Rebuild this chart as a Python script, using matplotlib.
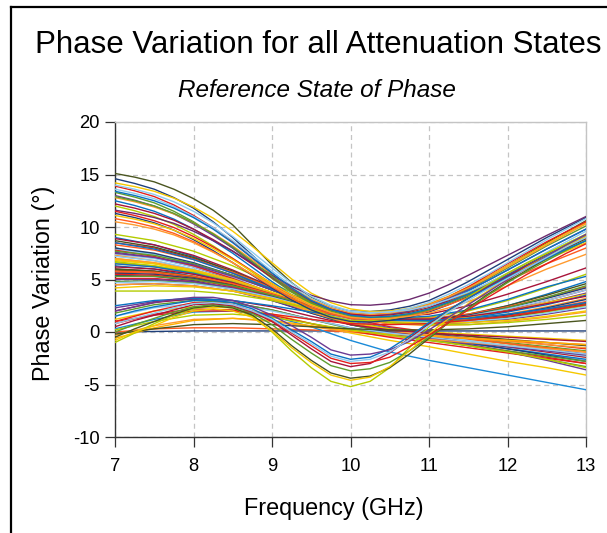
import matplotlib
matplotlib.use("Agg")
import matplotlib.pyplot as plt
from matplotlib.lines import Line2D

plt.rcParams['font.family'] = ['Liberation Sans', 'DejaVu Sans']

# ---------------- data ----------------
freq_ghz = [7.0, 7.5, 8.0, 8.5, 9.0, 9.5, 10.0, 10.5, 11.0, 11.5, 12.0, 12.5, 13.0]
freq_fine_ghz = [7.0, 7.25, 7.5, 7.75, 8.0, 8.25, 8.5, 8.75, 9.0, 9.25, 9.5, 9.75, 10.0,
                 10.25, 10.5, 10.75, 11.0, 11.25, 11.5, 11.75, 12.0, 12.25, 12.5, 12.75, 13.0]

# states starting high at 7 GHz and ending high at 13 GHz (fine grid)
high_start = [
    [15.1, 14.75, 14.3, 13.6, 12.7, 11.6, 10.2, 8.3, 6.4, 4.7, 3.3, 2.4, 1.9, 1.7, 1.8, 2.1, 2.6, 3.3, 4.2, 5.2, 6.3, 7.4, 8.5, 9.55, 10.6],
    [14.6, 14.15, 13.6, 12.8, 11.8, 10.5, 9.0, 7.3, 5.6, 4.15, 3.0, 2.35, 2.0, 1.95, 2.1, 2.45, 3.0, 3.85, 4.8, 5.85, 6.9, 7.95, 9.0, 9.95, 10.9],
    [14.2, 13.85, 13.4, 12.75, 11.9, 10.85, 9.6, 8.15, 6.6, 5.05, 3.7, 2.8, 2.2, 1.95, 2.0, 2.25, 2.7, 3.4, 4.3, 5.25, 6.3, 7.35, 8.4, 9.4, 10.4],
    [13.9, 13.45, 12.9, 12.1, 11.1, 9.95, 8.6, 7.05, 5.5, 4.1, 2.9, 2.1, 1.6, 1.5, 1.7, 2.05, 2.6, 3.35, 4.3, 5.4, 6.5, 7.55, 8.6, 9.55, 10.5],
    [13.6, 13.2, 12.7, 11.95, 11.0, 9.95, 8.7, 7.25, 5.8, 4.4, 3.2, 2.4, 1.9, 1.75, 1.9, 2.25, 2.8, 3.6, 4.5, 5.5, 6.6, 7.7, 8.8, 9.8, 10.8],
    [13.3, 12.85, 12.3, 11.5, 10.5, 9.3, 8.0, 6.55, 5.1, 3.8, 2.7, 1.95, 1.5, 1.4, 1.6, 1.95, 2.5, 3.25, 4.1, 5.05, 6.1, 7.15, 8.2, 9.15, 10.1],
    [13.0, 12.55, 12.0, 11.25, 10.3, 9.2, 8.0, 6.65, 5.3, 4.0, 2.9, 2.15, 1.7, 1.6, 1.7, 2.0, 2.5, 3.2, 4.0, 4.9, 5.9, 6.9, 7.9, 8.85, 9.8],
    [12.8, 12.4, 11.9, 11.25, 10.4, 9.4, 8.2, 6.85, 5.5, 4.2, 3.1, 2.3, 1.8, 1.65, 1.8, 2.1, 2.6, 3.35, 4.2, 5.15, 6.2, 7.25, 8.3, 9.3, 10.3],
    [12.5, 12.05, 11.5, 10.75, 9.8, 8.7, 7.5, 6.15, 4.8, 3.55, 2.5, 1.75, 1.3, 1.2, 1.4, 1.75, 2.3, 3.05, 3.9, 4.9, 5.9, 6.9, 7.9, 8.85, 9.8],
    [12.2, 11.8, 11.3, 10.65, 9.8, 8.8, 7.7, 6.45, 5.2, 3.95, 2.9, 2.15, 1.7, 1.55, 1.6, 1.85, 2.3, 2.95, 3.7, 4.55, 5.5, 6.45, 7.4, 8.3, 9.2],
    [12.0, 11.55, 11.0, 10.25, 9.3, 8.2, 7.0, 5.7, 4.4, 3.2, 2.2, 1.5, 1.1, 1.05, 1.2, 1.55, 2.1, 2.85, 3.7, 4.65, 5.6, 6.55, 7.5, 8.4, 9.3],
    [11.6, 11.3, 10.9, 10.35, 9.6, 8.7, 7.7, 6.55, 5.4, 4.35, 3.5, 2.95, 2.6, 2.55, 2.7, 3.1, 3.7, 4.5, 5.4, 6.35, 7.3, 8.25, 9.2, 10.1, 11.0],
    [11.5, 11.1, 10.6, 9.95, 9.1, 8.1, 7.0, 5.8, 4.6, 3.45, 2.5, 1.8, 1.4, 1.3, 1.4, 1.7, 2.2, 2.85, 3.6, 4.5, 5.4, 6.3, 7.2, 8.05, 8.9],
    [11.3, 10.9, 10.4, 9.7, 8.8, 7.75, 6.6, 5.4, 4.2, 3.05, 2.1, 1.4, 1.0, 0.95, 1.1, 1.4, 1.9, 2.6, 3.4, 4.35, 5.3, 6.25, 7.2, 8.1, 9.0],
    [11.1, 10.75, 10.3, 9.7, 8.9, 7.95, 6.9, 5.75, 4.6, 3.55, 2.6, 1.95, 1.5, 1.4, 1.5, 1.75, 2.2, 2.8, 3.5, 4.35, 5.2, 6.05, 6.9, 7.7, 8.5],
    [10.8, 10.45, 10.0, 9.4, 8.6, 7.65, 6.6, 5.45, 4.3, 3.2, 2.3, 1.7, 1.3, 1.2, 1.3, 1.55, 2.0, 2.6, 3.3, 4.1, 4.9, 5.7, 6.5, 7.25, 8.0],
    [12.9, 12.5, 12.0, 11.3, 10.4, 9.35, 8.1, 6.7, 5.3, 3.95, 2.8, 2.0, 1.5, 1.35, 1.4, 1.65, 2.1, 2.75, 3.5, 4.35, 5.2, 6.1, 7.0, 7.85, 8.7],
    [13.4, 13.0, 12.5, 11.8, 10.9, 9.8, 8.5, 7.05, 5.6, 4.2, 3.0, 2.15, 1.6, 1.4, 1.5, 1.75, 2.2, 2.85, 3.6, 4.45, 5.4, 6.35, 7.3, 8.2, 9.1],
    [10.5, 10.2, 9.8, 9.25, 8.5, 7.6, 6.6, 5.5, 4.4, 3.4, 2.5, 1.85, 1.4, 1.25, 1.3, 1.5, 1.8, 2.3, 2.9, 3.6, 4.4, 5.2, 6.0, 6.7, 7.4],
    [14.0, 13.6, 13.1, 12.4, 11.5, 10.4, 9.1, 7.6, 6.1, 4.65, 3.4, 2.55, 2.0, 1.85, 1.9, 2.1, 2.5, 3.1, 3.8, 4.65, 5.6, 6.6, 7.6, 8.6, 9.6],
]
high_colors = ['#4a5520', '#1f3f7a', '#f5c800', '#e4201c', '#8ecbf0', '#5e9c2e',
               '#6b3a93', '#ff9a2e', '#0a72c2', '#a8143a', '#b4cc00', '#6b2a6e',
               '#e4201c', '#1f3f7a', '#f5c800', '#ff5a1f', '#5e9c2e', '#0a72c2',
               '#ff9a2e', '#8ecbf0']

# states starting mid-range and ending mid-range
mid_to_mid = [
    [9.3, 8.7, 7.7, 6.3, 4.6, 3.0, 1.8, 1.3, 1.4, 2.0, 3.0, 4.2, 5.5],
    [9.0, 8.3, 7.2, 5.7, 4.0, 2.5, 1.4, 0.9, 1.0, 1.6, 2.5, 3.6, 4.8],
    [8.9, 8.3, 7.3, 5.9, 4.3, 2.8, 1.8, 1.4, 1.7, 2.5, 3.6, 4.8, 6.1],
    [8.7, 8.1, 7.1, 5.8, 4.2, 2.8, 1.7, 1.2, 1.2, 1.7, 2.5, 3.5, 4.6],
    [8.3, 7.8, 6.9, 5.7, 4.2, 2.8, 1.8, 1.3, 1.3, 1.7, 2.4, 3.3, 4.3],
    [8.0, 7.5, 6.6, 5.4, 4.0, 2.7, 1.7, 1.2, 1.2, 1.6, 2.3, 3.2, 4.2],
    [7.8, 7.2, 6.3, 5.1, 3.7, 2.4, 1.4, 1.0, 1.0, 1.4, 2.1, 3.0, 4.0],
    [7.7, 7.3, 6.5, 5.4, 4.0, 2.6, 1.5, 1.0, 1.0, 1.5, 2.3, 3.3, 4.4],
    [7.5, 7.1, 6.4, 5.3, 4.0, 2.7, 1.7, 1.2, 1.1, 1.4, 2.0, 2.8, 3.7],
    [7.2, 6.8, 6.0, 4.9, 3.6, 2.4, 1.5, 1.1, 1.1, 1.5, 2.2, 3.0, 4.0],
    [7.0, 6.6, 5.9, 4.9, 3.7, 2.5, 1.6, 1.1, 1.0, 1.2, 1.7, 2.4, 3.2],
    [6.8, 6.5, 5.9, 5.0, 3.8, 2.6, 1.6, 1.1, 1.1, 1.4, 2.0, 2.8, 3.6],
    [6.7, 6.3, 5.7, 4.8, 3.6, 2.4, 1.4, 0.8, 0.7, 0.9, 1.3, 1.9, 2.5],
    [6.5, 6.2, 5.6, 4.7, 3.5, 2.3, 1.4, 0.9, 0.9, 1.3, 1.9, 2.6, 3.5],
    [6.2, 6.0, 5.5, 4.7, 3.6, 2.5, 1.6, 1.2, 1.2, 1.5, 2.0, 2.7, 3.4],
    [6.0, 5.8, 5.3, 4.5, 3.4, 2.3, 1.4, 0.9, 0.8, 1.0, 1.4, 2.0, 2.7],
    [5.8, 5.7, 5.3, 4.6, 3.6, 2.5, 1.6, 1.1, 1.0, 1.2, 1.6, 2.2, 2.9],
    [5.6, 5.5, 5.1, 4.4, 3.4, 2.3, 1.4, 0.9, 0.8, 1.1, 1.6, 2.3, 3.1],
    [5.5, 5.4, 5.0, 4.3, 3.3, 2.2, 1.3, 0.8, 0.7, 1.0, 1.5, 2.1, 2.8],
    [5.3, 5.3, 5.0, 4.4, 3.5, 2.5, 1.6, 1.1, 1.0, 1.1, 1.5, 2.0, 2.6],
    [5.0, 5.0, 4.8, 4.2, 3.3, 2.3, 1.4, 0.9, 0.8, 0.9, 1.2, 1.7, 2.3],
    [4.7, 4.8, 4.6, 4.1, 3.3, 2.3, 1.5, 1.0, 0.9, 1.0, 1.3, 1.8, 2.4],
    [4.5, 4.6, 4.4, 3.9, 3.1, 2.1, 1.3, 0.8, 0.6, 0.7, 1.0, 1.4, 1.9],
    [4.2, 4.4, 4.3, 3.9, 3.2, 2.3, 1.5, 1.0, 0.8, 0.9, 1.1, 1.5, 2.0],
    [3.9, 3.9, 3.9, 3.6, 3.0, 2.2, 1.4, 0.9, 0.7, 0.7, 0.9, 1.2, 1.6],
    [8.5, 7.9, 6.9, 5.6, 4.1, 2.7, 1.7, 1.3, 1.5, 2.1, 3.1, 4.3, 5.3],
]

# states starting mid-range and drifting negative
mid_to_low = [
    [8.5, 8.0, 7.0, 5.6, 4.0, 2.5, 1.3, 0.5, 0.0, -0.4, -0.8, -1.2, -1.6],
    [8.0, 7.4, 6.4, 5.0, 3.4, 2.0, 1.0, 0.3, -0.2, -0.6, -1.0, -1.4, -1.8],
    [7.6, 7.1, 6.2, 5.0, 3.6, 2.2, 1.1, 0.4, -0.1, -0.6, -1.1, -1.6, -2.1],
    [7.4, 7.0, 6.2, 5.1, 3.7, 2.3, 1.1, 0.3, -0.3, -0.9, -1.5, -2.1, -2.7],
    [7.3, 6.8, 5.9, 4.7, 3.3, 2.0, 0.9, 0.2, -0.4, -0.9, -1.4, -1.9, -2.4],
    [6.9, 6.5, 5.7, 4.6, 3.3, 2.0, 0.9, 0.1, -0.4, -0.9, -1.3, -1.8, -2.2],
    [6.6, 6.3, 5.6, 4.6, 3.3, 2.0, 0.9, 0.2, -0.3, -0.7, -1.1, -1.5, -1.9],
    [6.3, 6.0, 5.3, 4.3, 3.1, 1.8, 0.7, 0.0, -0.6, -1.1, -1.6, -2.1, -2.6],
    [6.0, 5.8, 5.2, 4.3, 3.1, 1.9, 0.8, 0.1, -0.4, -0.9, -1.4, -1.9, -2.4],
    [5.9, 5.7, 5.2, 4.4, 3.3, 2.1, 1.0, 0.3, -0.1, -0.4, -0.7, -1.0, -1.3],
    [5.7, 5.6, 5.1, 4.3, 3.2, 2.0, 0.9, 0.2, -0.3, -0.7, -1.1, -1.5, -1.9],
    [5.4, 5.3, 4.9, 4.1, 3.0, 1.8, 0.7, 0.0, -0.5, -1.0, -1.6, -2.2, -2.8],
    [5.1, 5.1, 4.8, 4.1, 3.1, 1.9, 0.8, 0.0, -0.6, -1.2, -1.8, -2.4, -3.0],
    [4.8, 4.9, 4.7, 4.1, 3.1, 1.9, 0.7, -0.1, -0.7, -1.3, -1.9, -2.6, -3.3],
    [4.5, 4.6, 4.4, 3.9, 3.0, 1.9, 0.8, 0.0, -0.6, -1.2, -1.9, -2.7, -3.6],
    [7.9, 7.4, 6.5, 5.2, 3.7, 2.2, 1.0, 0.2, -0.3, -0.8, -1.3, -1.8, -2.3],
    [6.5, 6.2, 5.5, 4.5, 3.2, 1.9, 0.8, 0.1, -0.3, -0.6, -0.9, -1.2, -1.5],
    [7.0, 6.6, 5.8, 4.7, 3.4, 2.0, 0.9, 0.3, 0.0, -0.2, -0.4, -0.6, -0.8],
]

# states starting near zero, dipping around 10 GHz, rising steeply after (fine grid)
dip_curves = [
    [-1.0, -0.1, 0.8, 1.6, 2.2, 2.5, 2.3, 1.5, 0.0, -1.8, -3.4, -4.7, -5.2,
     -4.7, -3.4, -1.5, 0.5, 2.0, 3.3, 4.5, 5.6, 6.6, 7.5, 8.4, 9.3],
    [-0.5, 0.3, 1.0, 1.7, 2.3, 2.5, 2.3, 1.6, 0.3, -1.3, -2.7, -3.9, -4.4,
     -4.2, -3.4, -2.1, -0.6, 0.9, 2.3, 3.6, 4.8, 5.9, 7.0, 8.0, 8.9],
    [0.0, 0.7, 1.3, 1.9, 2.4, 2.6, 2.4, 1.8, 0.7, -0.7, -2.0, -3.2, -3.7,
     -3.5, -2.9, -1.8, -0.5, 0.9, 2.2, 3.5, 4.7, 5.8, 6.8, 7.8, 8.7],
    [0.5, 1.1, 1.6, 2.1, 2.6, 2.7, 2.5, 1.9, 1.0, -0.3, -1.6, -2.8, -3.3,
     -3.0, -2.0, -0.6, 0.8, 2.1, 3.2, 4.3, 5.3, 6.3, 7.2, 8.1, 9.0],
    [-0.8, 0.0, 0.6, 1.4, 2.0, 2.2, 2.0, 1.4, 0.1, -1.5, -2.9, -4.1, -4.6,
     -4.3, -3.3, -1.8, -0.2, 1.3, 2.7, 3.9, 5.1, 6.2, 7.2, 8.2, 9.1],
    [1.0, 1.5, 2.0, 2.4, 2.8, 2.8, 2.6, 2.0, 1.1, -0.1, -1.3, -2.5, -3.0,
     -2.9, -2.4, -1.4, -0.3, 0.9, 2.1, 3.3, 4.4, 5.5, 6.5, 7.5, 8.4],
    [1.5, 2.0, 2.4, 2.7, 3.0, 3.0, 2.8, 2.2, 1.3, 0.2, -0.9, -2.1, -2.6,
     -2.4, -1.6, -0.4, 0.9, 2.1, 3.2, 4.2, 5.2, 6.1, 7.0, 7.9, 8.7],
    [2.0, 2.4, 2.8, 3.1, 3.3, 3.3, 3.0, 2.4, 1.6, 0.6, -0.5, -1.7, -2.2,
     -2.1, -1.7, -0.9, 0.2, 1.4, 2.6, 3.8, 5.0, 6.1, 7.2, 8.3, 9.3],
    [0.8, 1.3, 1.8, 2.3, 2.7, 2.8, 2.6, 2.0, 1.2, 0.0, -1.1, -2.3, -2.8,
     -2.6, -1.9, -0.7, 0.6, 1.9, 3.0, 4.1, 5.1, 6.1, 7.1, 8.1, 9.0],
]
dip_colors = ['#b4cc00', '#4a5520', '#5e9c2e', '#a8143a', '#f5c800',
              '#e4201c', '#0a72c2', '#6b3a93', '#8ecbf0']

# states starting near zero and staying low
low_start = [
    [0.0, 0.05, 0.1, 0.1, 0.1, 0.1, 0.1, 0.1, 0.1, 0.1, 0.1, 0.1, 0.1],
    [0.0, 0.3, 0.4, 0.4, 0.3, 0.2, 0.0, -0.2, -0.4, -0.6, -0.8, -1.0, -1.2],
    [1.2, 2.0, 2.4, 2.3, 1.7, 0.8, -0.1, -0.8, -1.4, -2.1, -2.8, -3.4, -4.1],
    [0.3, 1.2, 1.9, 2.0, 1.5, 0.5, -0.8, -1.9, -2.7, -3.4, -4.1, -4.8, -5.5],
    [2.3, 2.9, 3.1, 2.8, 2.1, 1.2, 0.4, -0.2, -0.6, -1.0, -1.4, -1.8, -2.2],
    [1.8, 2.6, 3.0, 2.8, 2.1, 1.2, 0.3, -0.3, -0.8, -1.3, -1.8, -2.3, -2.8],
    [-0.3, 0.6, 1.2, 1.3, 1.0, 0.5, 0.0, -0.4, -0.7, -1.0, -1.3, -1.6, -1.9],
    [0.8, 1.7, 2.2, 2.1, 1.6, 0.8, 0.1, -0.5, -1.0, -1.5, -2.0, -2.5, -3.0],
    [-0.6, 0.4, 1.1, 1.3, 1.1, 0.6, 0.1, -0.2, -0.4, -0.6, -0.8, -1.0, -1.2],
    [2.0, 2.8, 3.2, 3.0, 2.4, 1.5, 0.7, 0.2, -0.1, -0.3, -0.5, -0.7, -0.9],
    [1.5, 2.3, 2.7, 2.6, 2.0, 1.2, 0.4, -0.1, -0.5, -0.9, -1.3, -1.7, -2.1],
    [0.2, 1.0, 1.6, 1.7, 1.4, 0.8, 0.2, -0.3, -0.8, -1.3, -1.9, -2.6, -3.4],
    [-0.2, 0.3, 0.7, 0.8, 0.7, 0.5, 0.3, 0.2, 0.2, 0.3, 0.5, 0.8, 1.1],
    [1.0, 1.6, 2.0, 2.0, 1.7, 1.2, 0.8, 0.7, 0.8, 1.1, 1.5, 2.0, 2.6],
    [2.5, 3.0, 3.2, 3.0, 2.5, 1.9, 1.4, 1.1, 1.1, 1.3, 1.7, 2.2, 2.8],
]
low_colors = ['#1f3f7a', '#ff5a1f', '#f5c800', '#1a8ad8', '#6b3a93',
              '#5e9c2e', '#ff9a2e', '#e4201c', '#ffb000', '#a8143a',
              '#8ecbf0', '#b4cc00', '#4a5520', '#e4201c', '#0a72c2']

palette = ['#1f3f7a', '#e4201c', '#5e9c2e', '#6b3a93', '#8ecbf0', '#ff9a2e',
           '#f5c800', '#b4cc00', '#0a72c2', '#a8143a', '#4a5520', '#ff5a1f']

x_ticks = [7, 8, 9, 10, 11, 12, 13]
y_ticks = [-10, -5, 0, 5, 10, 15, 20]

# ---------------- figure ----------------
W, H = 607, 533
fig = plt.figure(figsize=(W / 100, H / 100), dpi=100)
ax = fig.add_axes([115 / W, 1 - 437 / H, (586 - 115) / W, (437 - 122) / H])

lw = 1.0
for i, row in enumerate(mid_to_low):
    ax.plot(freq_ghz, row, color=palette[(i + 1) % len(palette)], lw=lw, zorder=3)
for i, row in enumerate(mid_to_mid):
    ax.plot(freq_ghz, row, color=palette[(i + 7) % len(palette)], lw=lw, zorder=3)
for row, c in zip(low_start, low_colors):
    ax.plot(freq_ghz, row, color=c, lw=lw, zorder=3)
for row, c in zip(high_start, high_colors):
    ax.plot(freq_fine_ghz, row, color=c, lw=lw, zorder=3)
for row, c in zip(dip_curves, dip_colors):
    ax.plot(freq_fine_ghz, row, color=c, lw=lw, zorder=3)

ax.set_xlim(7, 13)
ax.set_ylim(-10, 20)
ax.set_xticks(x_ticks)
ax.set_yticks(y_ticks)
ax.set_xticklabels([str(t) for t in x_ticks])
ax.set_yticklabels([str(t) for t in y_ticks])
ax.tick_params(direction='out', length=7.2, width=0.9, colors='#333333',
               labelcolor='black', labelsize=13.2)
ax.tick_params(axis='x', pad=8.0)
ax.tick_params(axis='y', pad=3.6)
ax.grid(True, color='#c4c4c4', linestyle=(0, (4, 3)), linewidth=0.9, zorder=0)
for s in ['left', 'bottom']:
    ax.spines[s].set_color('#333333')
    ax.spines[s].set_linewidth(1.0)
for s in ['top', 'right']:
    ax.spines[s].set_color('#c4c4c4')
    ax.spines[s].set_linewidth(1.0)

fig.text(334 / W, 1 - 515 / H, 'Frequency (GHz)', ha='center', va='baseline', fontsize=16.8)
fig.text(44 / W, 1 - 283 / H, 'Phase Variation (°)', ha='center', va='center',
         rotation=90, fontsize=16.8)
fig.text(318 / W, 1 - 53 / H, 'Phase Variation for all Attenuation States',
         ha='center', va='baseline', fontsize=22.5)
fig.text(317 / W, 1 - 97 / H, 'Reference State of Phase', ha='center', va='baseline',
         fontsize=17.5, style='italic')

# outer frame (left and top edges visible)
fig.add_artist(Line2D([11 / W, 11 / W], [0, 1 - 7 / H], color='black', lw=1.6,
                      transform=fig.transFigure))
fig.add_artist(Line2D([11 / W, 1.0], [1 - 7 / H, 1 - 7 / H], color='black', lw=1.6,
                      transform=fig.transFigure))

fig.savefig('out.png', dpi=100)
